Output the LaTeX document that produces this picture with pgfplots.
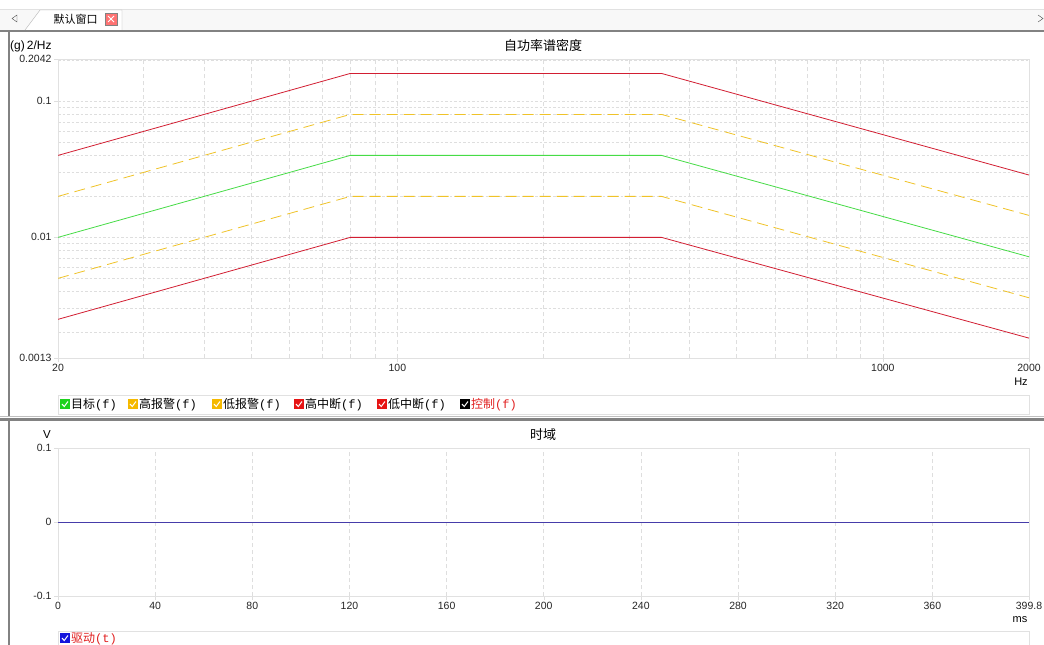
\documentclass[border=0pt]{standalone}
\usepackage{pgfplots}
\pgfplotsset{compat=1.18}
\usepackage{fontspec}
\setmainfont{Liberation Sans}
\setmonofont{Liberation Mono}
\newfontfamily\cjk{Noto Sans CJK SC}
\definecolor{tgt}{RGB}{70,220,70}
\definecolor{alm}{RGB}{240,195,40}
\definecolor{abt}{RGB}{210,30,50}
\definecolor{drv}{RGB}{70,60,170}
\definecolor{gridc}{RGB}{222,222,222}
\definecolor{framec}{RGB}{225,225,225}
\definecolor{cbgreen}{RGB}{30,210,30}
\definecolor{cbyellow}{RGB}{245,185,0}
\definecolor{cbred}{RGB}{230,20,20}
\definecolor{cbblue}{RGB}{20,20,220}
\definecolor{lgred}{RGB}{225,30,30}
\definecolor{bord}{RGB}{130,130,130}
\definecolor{tabbg}{RGB}{248,248,248}

\newcommand{\cbox}[3]{% x y color
  \fill[#3] (#1,#2) rectangle ++(10,10);
  \draw[white,line width=1pt] (#1+2,#2+5) -- (#1+4.2,#2+7.5) -- (#1+8,#2+2.5);
}

\begin{document}
\begin{tikzpicture}
\path[use as bounding box] (0,0) rectangle (1044pt,-645pt);
\fill[white] (0,0) rectangle (1044pt,-645pt);

\begin{scope}[x=1pt,y=-1pt]
% tab bar
\fill[tabbg] (0,9) rectangle (1044,30);
\draw[framec] (0,9) -- (1044,9);
\fill[white] (25,30) -- (40,10) -- (122,10) -- (122,30) -- cycle;
\draw[bord!60] (25,30) -- (40,10) -- (122,10) -- (122,30);
\draw[black!70] (17,15) -- (12,18.5) -- (17,22) -- cycle;
\draw[black!70] (1038,15) -- (1043,18.5) -- (1038,22);
\node[font=\cjk\fontsize{11}{12}\selectfont, anchor=west] at (50,19) {默认窗口};
\fill[red!55] (105,13) rectangle (117,25);
\draw[bord] (105,13) rectangle (117,25);
\draw[white,line width=0.9pt] (108,16) -- (114,22) (108,22) -- (114,16);
% panel borders
\fill[bord] (0,29.5) rectangle (1044,31.5);
\fill[bord] (7.5,31) rectangle (9.5,417);
\fill[black!25] (0,416) rectangle (1044,417);
\fill[bord] (0,418) rectangle (1044,420.5);
\fill[bord] (7.5,420) rectangle (9.5,645);

% titles and units
\node[font=\cjk\fontsize{13}{14}\selectfont] at (543,46) {自功率谱密度};
\node[font=\cjk\fontsize{13}{14}\selectfont] at (543,435) {时域};
\node[font=\fontsize{12}{13}\selectfont, anchor=west, inner sep=0] at (10,46) {(g)\,2/Hz};
\node[font=\fontsize{11.5}{12}\selectfont] at (47,435) {V};
\node[font=\fontsize{11}{12}\selectfont] at (1021,382) {Hz};
\node[font=\fontsize{11}{12}\selectfont] at (1020,620) {ms};

% top legend
\draw[framec] (58,395) rectangle (1029,414);
\cbox{60}{399}{cbgreen}
\node[anchor=west,inner sep=0,font=\cjk\fontsize{12}{13}\selectfont] at (71,404.5) {目标\texttt{(f)}};
\cbox{128}{399}{cbyellow}
\node[anchor=west,inner sep=0,font=\cjk\fontsize{12}{13}\selectfont] at (139,404.5) {高报警\texttt{(f)}};
\cbox{212}{399}{cbyellow}
\node[anchor=west,inner sep=0,font=\cjk\fontsize{12}{13}\selectfont] at (223,404.5) {低报警\texttt{(f)}};
\cbox{294}{399}{cbred}
\node[anchor=west,inner sep=0,font=\cjk\fontsize{12}{13}\selectfont] at (305,404.5) {高中断\texttt{(f)}};
\cbox{377}{399}{cbred}
\node[anchor=west,inner sep=0,font=\cjk\fontsize{12}{13}\selectfont] at (388,404.5) {低中断\texttt{(f)}};
\cbox{460}{399}{black}
\node[anchor=west,inner sep=0,font=\cjk\fontsize{12}{13}\selectfont,text=lgred] at (471,404.5) {控制\texttt{(f)}};

% bottom legend
\draw[framec] (58,631) rectangle (1029,660);
\cbox{60}{633}{cbblue}
\node[anchor=west,inner sep=0,font=\cjk\fontsize{12}{13}\selectfont,text=lgred] at (71,638.5) {驱动\texttt{(t)}};
\end{scope}

\begin{axis}[
  at={(58pt,-358pt)}, anchor=south west,
  scale only axis, width=971pt, height=299pt,
  xmode=log, ymode=log,
  xmin=20, xmax=2000, ymin=0.0013, ymax=0.2042,
  xtick={20,100,1000,2000}, xticklabels={20,100,1000,2000},
  minor xtick={30,40,50,60,70,80,90,200,300,400,500,600,700,800,900},
  ytick={0.0013,0.01,0.1,0.2042}, yticklabels={0.0013,0.01,0.1,0.2042},
  minor ytick={0.002,0.003,0.004,0.005,0.006,0.007,0.008,0.009,0.02,0.03,0.04,0.05,0.06,0.07,0.08,0.09,0.2},
  xmajorgrids, xminorgrids, ymajorgrids, yminorgrids,
  major x grid style={gridc, dash pattern=on 4pt off 3pt, line width=0.6pt},
  minor x grid style={gridc, dash pattern=on 4pt off 3pt, line width=0.6pt},
  major y grid style={gridc, dash pattern=on 2.5pt off 2pt, line width=0.6pt},
  minor y grid style={gridc, dash pattern=on 2.5pt off 2pt, line width=0.6pt},
  axis line style={framec, line width=0.8pt},
  major tick style={gridc}, major tick length=4pt, minor tick length=0pt,
  tick align=outside, xtick pos=bottom, ytick pos=left,
  ticklabel style={font=\fontsize{10.5}{11}\selectfont, text=black!85},
  xticklabel style={yshift=1pt},
  yticklabel style={xshift=1pt},
]
\addplot[abt, line width=0.8pt] coordinates {(20,0.04) (80,0.16) (350,0.16) (2000,0.0287)};
\addplot[abt, line width=0.8pt] coordinates {(20,0.0025) (80,0.01) (350,0.01) (2000,0.00182)};
\addplot[alm, line width=0.8pt, dash pattern=on 11pt off 6pt] coordinates {(20,0.02) (80,0.08) (350,0.08) (2000,0.0145)};
\addplot[alm, line width=0.8pt, dash pattern=on 11pt off 6pt] coordinates {(20,0.005) (80,0.02) (350,0.02) (2000,0.0036)};
\addplot[tgt, line width=0.8pt] coordinates {(20,0.01) (80,0.04) (350,0.04) (2000,0.0072)};
\end{axis}

\begin{axis}[
  at={(58pt,-596pt)}, anchor=south west,
  scale only axis, width=971pt, height=148pt,
  xmin=0, xmax=399.8, ymin=-0.1, ymax=0.1,
  xtick={0,40,80,120,160,200,240,280,320,360,399.8},
  xticklabels={0,40,80,120,160,200,240,280,320,360,399.8},
  ytick={-0.1,0,0.1}, yticklabels={-0.1,0,0.1},
  xmajorgrids,
  major x grid style={gridc, dash pattern=on 4pt off 3pt, line width=0.6pt},
  axis line style={framec, line width=0.8pt},
  major tick style={gridc}, major tick length=4pt,
  tick align=outside, xtick pos=bottom, ytick pos=left,
  ticklabel style={font=\fontsize{10.5}{11}\selectfont, text=black!85},
  xticklabel style={yshift=1pt},
  yticklabel style={xshift=1pt},
]
\addplot[drv, line width=0.8pt] coordinates {(0,0) (399.8,0)};
\end{axis}
\end{tikzpicture}
\end{document}
